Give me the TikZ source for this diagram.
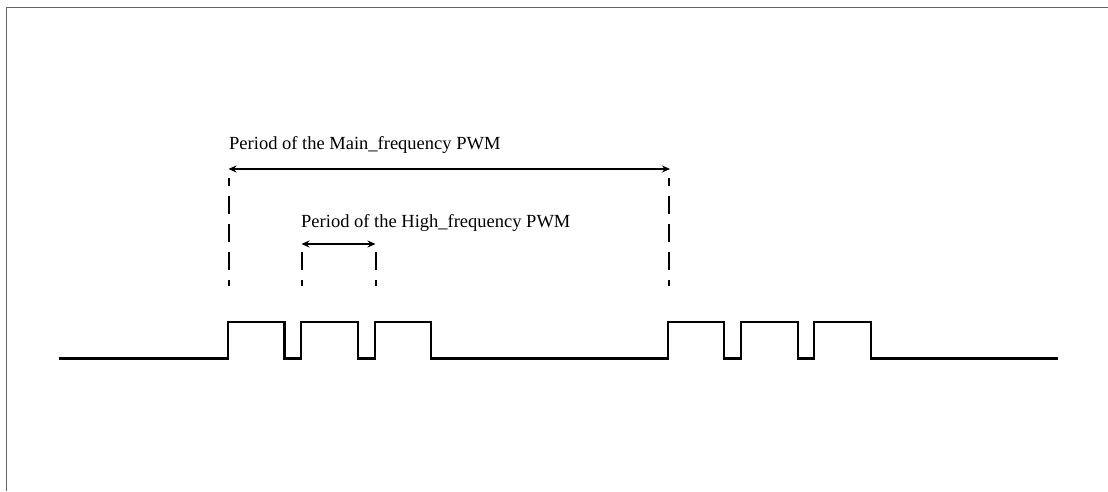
\documentclass[tikz,border=0pt]{standalone}
\usepackage{fontspec}
\setmainfont{Liberation Serif}
\usetikzlibrary{arrows.meta}
\begin{document}
\begin{tikzpicture}[x=1pt,y=-1pt,
  frameline/.style={draw=black!60, line width=1.6pt},
  wave/.style={draw=black, line width=2.2pt, line join=miter},
  guide/.style={draw=black, line width=2pt, dash pattern=on 18pt off 10pt, dash phase=12pt},
  span/.style={draw=black, line width=1.4pt, {Stealth[length=8pt,width=7pt]}-{Stealth[length=8pt,width=7pt]}},
  lbl/.style={inner sep=0pt, anchor=base west, font=\fontsize{18.5pt}{22pt}\selectfont}]
\useasboundingbox (0,0) rectangle (1108,491);
\fill[white] (0,0) rectangle (1108,491);
% frame (cropped)
\draw[frameline] (6.5,491) -- (6.5,7.5) -- (1108,7.5);
% waveform
\coordinate (w0) at (59,358.5);
\coordinate (w1) at (1058,358.5);
\draw[wave] (w0) -- (228,358.5) -- (228,322) -- (284.5,322) -- (284.5,358.5)
  -- (301,358.5) -- (301,322) -- (357.7,322) -- (357.7,358.5)
  -- (374.7,358.5) -- (374.7,322) -- (431,322) -- (431,358.5)
  -- (667.7,358.5) -- (667.7,322) -- (724,322) -- (724,358.5)
  -- (741,358.5) -- (741,322) -- (797.7,322) -- (797.7,358.5)
  -- (814.3,358.5) -- (814.3,322) -- (871,322) -- (871,358.5) -- (w1);
% guide lines (drawn bottom-up)
\coordinate (mLb) at (228.5,285.7); \coordinate (mLt) at (228.5,178);
\coordinate (mRb) at (668.5,285.7); \coordinate (mRt) at (668.5,178);
\coordinate (hLb) at (301.5,285.7); \coordinate (hLt) at (301.5,250);
\coordinate (hRb) at (375.5,285.7); \coordinate (hRt) at (375.5,250);
\draw[guide] (mLb) -- (mLt);
\draw[guide] (mRb) -- (mRt);
\draw[guide] (hLb) -- (hLt);
\draw[guide] (hRb) -- (hRt);
% span arrows
\coordinate (aL) at (228.5,169); \coordinate (aR) at (670,169);
\coordinate (bL) at (301.5,244); \coordinate (bR) at (375.5,244);
\draw[span] (aL) -- (aR);
\draw[span] (bL) -- (bR);
% labels
\node[lbl] (tmain) at (229,149) {Period of the Main\_frequency PWM};
\node[lbl] (thigh) at (301,227) {Period of the High\_frequency PWM};
\end{tikzpicture}
\end{document}
